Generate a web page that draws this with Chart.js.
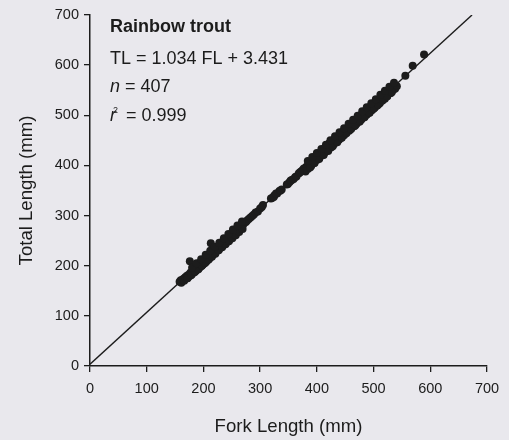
<!DOCTYPE html>
<html>
<head>
<meta charset="utf-8">
<script src="https://cdn.jsdelivr.net/npm/chart.js@4.4.0/dist/chart.umd.min.js"></script>
<style>
  html, body { margin: 0; padding: 0; background: #e9e8ed; }
  #wrap { width: 509px; height: 440px; }
</style>
</head>
<body>
<div id="wrap"><canvas id="chart" width="509" height="440"></canvas></div>
<script>
// Fork length (mm) of each fish
const forkLength = [
    158, 160, 161, 163, 165, 166, 168, 169, 171, 172, 174, 175, 176, 177, 178, 180, 181, 183, 184, 186,
    187, 189, 190, 192, 193, 195, 196, 198, 199, 201, 202, 204, 205, 206, 208, 209, 211, 212, 213, 214,
    216, 217, 219, 220, 222, 223, 225, 226, 228, 229, 231, 232, 234, 235, 237, 238, 240, 241, 243, 244,
    246, 247, 249, 251, 252, 254, 256, 257, 259, 261, 262, 264, 266, 268, 270, 272, 275, 277, 280, 283,
    286, 289, 305, 321, 325, 330, 334, 338, 347, 352, 356, 362, 368, 372,
    375, 377, 379, 381, 383, 384, 386, 388, 390, 391, 393, 395, 396, 398, 400, 401, 403, 405, 406, 408,
    410, 411, 413, 414, 416, 418, 419, 421, 422, 424, 425, 427, 428, 430, 431, 433, 434, 436, 437, 439,
    440, 442, 443, 445, 446, 448, 449, 451, 452, 454, 455, 457, 458, 460, 461, 463, 464, 466, 467, 469,
    470, 472, 473, 475, 476, 478, 479, 481, 482, 484, 485, 487, 488, 490, 491, 493, 494, 496, 497, 499,
    500, 502, 503, 505, 506, 508, 509, 511, 512, 514, 515, 517, 518, 520, 521, 523, 524, 526, 528, 530,
    532, 534, 536, 538, 541, 556, 569, 589,
    172, 179, 185, 191, 197, 203, 209, 215, 221, 227, 233, 239, 245, 251, 257, 263, 269,
    180, 188, 196, 204, 212, 220, 228, 236, 244, 252, 260, 268,
    380, 388, 396, 404, 412, 420, 428, 436, 444, 452, 460, 468, 476, 484, 492, 500, 508, 516, 524, 532,
    384, 392, 400, 408, 416, 424, 432, 440, 448, 456, 464, 472, 480, 488, 496, 504, 512, 520, 528, 536,
    292, 296, 300, 303, 319, 324, 328, 336, 349, 354, 359, 364, 370
];

// Total length (mm) of each fish, same order
const totalLength = [
    168, 171, 166, 172, 174, 170, 177, 174, 180, 176, 182, 179, 209, 186, 181, 188, 185, 191, 187, 194,
    190, 197, 193, 200, 196, 203, 199, 206, 202, 209, 205, 212, 208, 216, 213, 218, 215, 222, 245, 219,
    226, 222, 229, 226, 233, 229, 236, 232, 239, 235, 242, 238, 245, 241, 248, 244, 251, 247, 254, 250,
    257, 253, 260, 262, 258, 265, 267, 263, 270, 273, 269, 275, 278, 280, 282, 285, 287, 290, 293, 296,
    299, 302, 321, 335, 340, 344, 349, 352, 362, 367, 371, 377, 384, 388,
    391, 394, 389, 397, 398, 393, 402, 404, 399, 408, 410, 405, 413, 415, 411, 419, 421, 416, 424, 426,
    421, 429, 431, 426, 434, 437, 431, 438, 444, 441, 436, 445, 448, 442, 450, 452, 446, 454, 457, 451,
    459, 461, 455, 463, 466, 460, 468, 470, 465, 472, 475, 469, 477, 479, 474, 481, 484, 478, 486, 488,
    483, 491, 493, 487, 495, 497, 492, 500, 502, 496, 504, 506, 501, 509, 511, 505, 513, 516, 510, 518,
    520, 515, 523, 525, 519, 527, 530, 524, 532, 534, 529, 537, 539, 533, 541, 543, 538, 546, 548, 544,
    552, 550, 556, 553, 558, 579, 599, 621,
    175, 182, 188, 193, 200, 206, 212, 218, 224, 231, 237, 243, 249, 255, 261, 267, 273,
    196, 205, 213, 222, 230, 238, 246, 255, 263, 272, 280, 288,
    388, 396, 405, 413, 421, 429, 438, 446, 455, 464, 472, 480, 488, 497, 505, 513, 521, 530, 538, 546,
    409, 417, 425, 433, 441, 450, 458, 466, 474, 483, 491, 499, 508, 516, 524, 532, 541, 549, 557, 565,
    306, 308, 314, 317, 334, 337, 344, 350, 363, 370, 373, 378, 386
];

// Fitted regression line TL = 1.034 FL + 3.431, ends at the plot edges
const fitX = [0, 673.6];
const fitY = [3.431, 700];

const species = 'Rainbow trout';
const equation = 'TL = 1.034 FL + 3.431';
const sampleSize = '407';
const rSquared = '0.999';

const ink = '#1c1c1c';
const fontFamily = '"Liberation Sans", Arial, sans-serif';

const points = forkLength.map((fl, i) => ({ x: fl, y: totalLength[i] }));
const fitLine = fitX.map((x, i) => ({ x: x, y: fitY[i] }));

// Draws the species name and regression stats in the top left
const statsPlugin = {
    id: 'stats',
    afterDraw(chart) {
        const ctx = chart.ctx;
        const left = 110;
        ctx.save();
        ctx.fillStyle = ink;
        ctx.textBaseline = 'alphabetic';
        ctx.textAlign = 'left';

        ctx.font = 'bold 18px ' + fontFamily;
        ctx.fillText(species, left, 32);

        ctx.font = '18px ' + fontFamily;
        ctx.fillText(equation, left, 64);

        ctx.font = 'italic 18px ' + fontFamily;
        ctx.fillText('n', left, 92);
        let w = ctx.measureText('n').width;
        ctx.font = '18px ' + fontFamily;
        ctx.fillText(' = ' + sampleSize, left + w, 92);

        ctx.font = 'italic 18px ' + fontFamily;
        ctx.fillText('r', left, 121);
        w = ctx.measureText('r').width;
        ctx.font = '9px ' + fontFamily;
        ctx.fillText('2', left + w - 3, 113);
        ctx.font = '18px ' + fontFamily;
        ctx.fillText(' = ' + rSquared, left + w + 5, 121);
        ctx.restore();
    }
};

const axisStyle = {
    type: 'linear',
    min: 0,
    max: 700,
    ticks: {
        stepSize: 100,
        color: ink,
        font: { family: fontFamily, size: 14.5 },
    },
    grid: {
        drawOnChartArea: false,
        drawTicks: true,
        tickLength: 6,
        color: ink,
        lineWidth: 1.3,
    },
    border: { color: ink, width: 1.5 },
};

new Chart(document.getElementById('chart'), {
    type: 'scatter',
    data: {
        datasets: [
            {
                type: 'line',
                data: fitLine,
                borderColor: ink,
                borderWidth: 1.4,
                pointRadius: 0,
                fill: false,
                order: 2,
            },
            {
                data: points,
                backgroundColor: ink,
                borderWidth: 0,
                pointRadius: 4,
                order: 1,
            }
        ]
    },
    options: {
        responsive: false,
        animation: false,
        layout: { padding: { top: 15, right: 22, left: 0, bottom: 0 } },
        plugins: {
            legend: { display: false },
            tooltip: { enabled: false },
        },
        scales: {
            x: {
                ...axisStyle,
                position: 'bottom',
                ticks: { ...axisStyle.ticks, padding: 8, maxRotation: 0 },
                title: {
                    display: true,
                    text: 'Fork Length (mm)',
                    color: ink,
                    font: { family: fontFamily, size: 18.6 },
                    padding: { top: 0, bottom: 2 },
                },
                afterFit(scale) { scale.height = 74; },
            },
            y: {
                ...axisStyle,
                position: 'left',
                ticks: { ...axisStyle.ticks, padding: 5 },
                title: {
                    display: true,
                    text: 'Total Length (mm)',
                    color: ink,
                    font: { family: fontFamily, size: 18.6 },
                    padding: { top: 16, bottom: 0 },
                },
                afterFit(scale) { scale.width = 90; },
            }
        }
    },
    plugins: [statsPlugin]
});
</script>
</body>
</html>
